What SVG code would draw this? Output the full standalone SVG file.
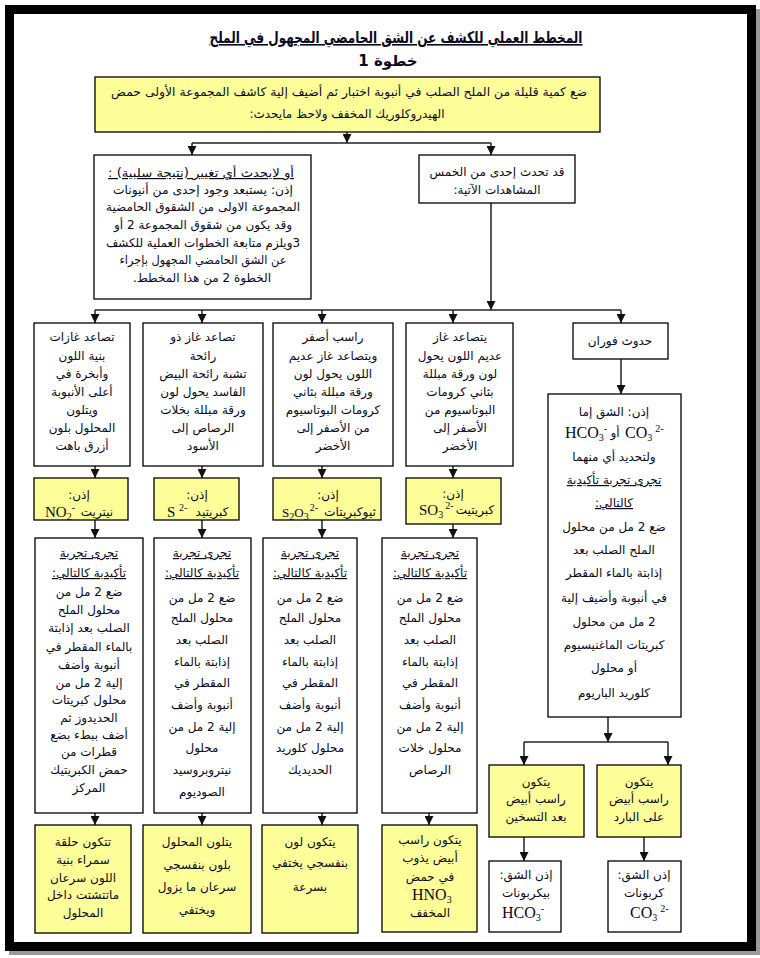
<svg xmlns="http://www.w3.org/2000/svg" width="760" height="958" viewBox="0 0 760 958">
<defs>
<marker id="ah" viewBox="0 0 10 10" refX="10" refY="5" markerWidth="9" markerHeight="9" markerUnits="userSpaceOnUse" orient="auto">
<path d="M0,0 L10,5 L0,10 z" fill="#111"/>
</marker>
<style>
.box{fill:#fff;stroke:#000;stroke-width:1.3}
.yb{fill:#ffff99;stroke:#000;stroke-width:1.3}
.t{font-family:'DejaVu Sans',sans-serif;font-size:12px;fill:#0a0a20;text-anchor:middle;direction:rtl}
.u{text-decoration:underline}
.l{font-family:'Liberation Serif',serif;font-size:15px;fill:#0a0a20}
.s{font-size:10px}
.c{stroke:#222;stroke-width:1.5;fill:none}
.ca{stroke:#222;stroke-width:1.5;fill:none;marker-end:url(#ah)}
</style>
</defs>
<rect x="0" y="0" width="760" height="958" fill="#fff"/>
<rect x="13.5" y="13.5" width="742" height="937" fill="none" stroke="#9a9a9a" stroke-width="9"/>
<rect x="9.5" y="9.5" width="742" height="937" fill="#fff" stroke="#000" stroke-width="9"/>

<g id="title">
<text x="396" y="43" class="t u" style="font-size:16px;font-weight:bold" textLength="373" lengthAdjust="spacingAndGlyphs">المخطط العملي للكشف عن الشق الحامضي المجهول في الملح</text>
<text x="388" y="66" class="t" style="font-size:15px;font-weight:bold">خطوة 1</text>
</g>

<g id="connectors">
<path class="ca" d="M347,132 V143"/>
<path class="c" d="M192,143 H491"/>
<path class="ca" d="M192,143 V155"/>
<path class="ca" d="M491,143 V155"/>
<path class="ca" d="M491,203 V310"/>
<path class="c" d="M95,310 H621"/>
<path class="ca" d="M95,310 V323"/>
<path class="ca" d="M202,310 V323"/>
<path class="ca" d="M322,310 V323"/>
<path class="ca" d="M453,310 V323"/>
<path class="ca" d="M621,310 V323"/>
<path class="ca" d="M95,466 V478"/>
<path class="ca" d="M202,466 V478"/>
<path class="ca" d="M322,466 V478"/>
<path class="ca" d="M453,466 V478"/>
<path class="ca" d="M95,520 V538"/>
<path class="ca" d="M202,520 V538"/>
<path class="ca" d="M322,520 V538"/>
<path class="ca" d="M453,524 V538"/>
<path class="ca" d="M95,813 V825"/>
<path class="ca" d="M202,813 V825"/>
<path class="ca" d="M322,813 V825"/>
<path class="ca" d="M429,813 V825"/>
<path class="ca" d="M621,359 V394"/>
<path class="ca" d="M608,717 V742"/>
<path class="c" d="M524,742 H668"/>
<path class="ca" d="M524,742 V765"/>
<path class="ca" d="M668,742 V765"/>
<path class="ca" d="M524,837 V861"/>
<path class="ca" d="M644,837 V861"/>
</g>

<g id="start">
<rect class="yb" x="95" y="77" width="505" height="55"/>
<text x="349" y="96" class="t" textLength="476" lengthAdjust="spacingAndGlyphs">ضع كمية قليلة من الملح الصلب في أنبوبة اختبار ثم أضيف إلية كاشف المجموعة الأولى حمض</text>
<text x="347" y="118" class="t">الهيدروكلوريك المخفف ولاحظ مايحدث:</text>
</g>

<g id="negative">
<rect class="box" x="94" y="155" width="217" height="144"/>
<text x="201" y="177" class="t u" textLength="186" lengthAdjust="spacingAndGlyphs">أو لايحدث أي تغيير (نتيجة سلبية) :</text>
<text x="203" y="194" class="t" textLength="180" lengthAdjust="spacingAndGlyphs">إذن: يستبعد وجود إحدى من أنيونات</text>
<text x="203" y="211" class="t" textLength="194" lengthAdjust="spacingAndGlyphs">المجموعة الاولى من الشقوق الحامضية</text>
<text x="203" y="229" class="t" textLength="178" lengthAdjust="spacingAndGlyphs">وقد يكون من شقوق المجموعة 2 أو</text>
<text x="203" y="247" class="t" textLength="194" lengthAdjust="spacingAndGlyphs">3ويلزم متابعة الخطوات العملية للكشف</text>
<text x="203" y="264" class="t" textLength="167" lengthAdjust="spacingAndGlyphs">عن الشق الحامضي المجهول بإجراء</text>
<text x="202" y="282" class="t">الخطوة  2 من هذا المخطط.</text>
</g>

<g id="positive">
<rect class="box" x="419" y="155" width="156" height="48"/>
<text x="497" y="176" class="t">قد تحدث إحدى من الخمس</text>
<text x="497" y="194" class="t">المشاهدات الآتية:</text>
</g>

<g id="obs1">
<rect class="box" x="34" y="323" width="96" height="143"/>
<text x="82" y="341" class="t">تصاعد غازات</text>
<text x="82" y="360" class="t">بنية اللون</text>
<text x="82" y="378" class="t">وأبخرة في</text>
<text x="82" y="396" class="t">أعلى الأنبوبة</text>
<text x="82" y="414" class="t">ويتلون</text>
<text x="82" y="432" class="t">المحلول بلون</text>
<text x="82" y="450" class="t">أزرق باهت</text>
</g>

<g id="obs2">
<rect class="box" x="143" y="323" width="120" height="143"/>
<text x="203" y="341" class="t">تصاعد غاز ذو</text>
<text x="203" y="360" class="t">رائحة</text>
<text x="203" y="378" class="t">تشبة رائحة البيض</text>
<text x="203" y="396" class="t">الفاسد يحول لون</text>
<text x="203" y="414" class="t">ورقة مبللة بخلات</text>
<text x="203" y="432" class="t">الرصاص إلى</text>
<text x="203" y="450" class="t">الأسود</text>
</g>

<g id="obs3">
<rect class="box" x="273" y="323" width="120" height="143"/>
<text x="333" y="341" class="t">راسب أصفر</text>
<text x="333" y="360" class="t">ويتصاعد غاز عديم</text>
<text x="333" y="378" class="t">اللون يحول لون</text>
<text x="333" y="396" class="t">ورقة مبللة بثاني</text>
<text x="333" y="414" class="t">كرومات البوتاسيوم</text>
<text x="333" y="432" class="t">من الأصفر إلى</text>
<text x="333" y="450" class="t">الأخضر</text>
</g>

<g id="obs4">
<rect class="box" x="406" y="323" width="107" height="143"/>
<text x="460" y="341" class="t">يتصاعد غاز</text>
<text x="460" y="360" class="t">عديم اللون يحول</text>
<text x="460" y="378" class="t">لون ورقة مبللة</text>
<text x="460" y="396" class="t">بثاني كرومات</text>
<text x="460" y="414" class="t">البوتاسيوم من</text>
<text x="460" y="432" class="t">الأصفر إلى</text>
<text x="460" y="450" class="t">الأخضر</text>
</g>

<g id="obs5">
<rect class="box" x="573" y="323" width="95" height="36"/>
<text x="620" y="345" class="t">حدوث فوران</text>
</g>

<g id="res1">
<rect class="yb" x="34" y="478" width="94" height="42"/>
<text x="79" y="499" class="t">إذن:</text>
<text x="45" y="517" class="l">NO<tspan class="s" dy="3">2</tspan><tspan class="s" dy="-9">-</tspan></text>
<text x="97" y="516" class="t">نيتريت</text>
</g>

<g id="res2">
<rect class="yb" x="154" y="478" width="85" height="42"/>
<text x="197" y="499" class="t">إذن:</text>
<text x="167" y="517" class="l">S <tspan class="s" dy="-6">2-</tspan></text>
<text x="212" y="516" class="t">كبريتيد</text>
</g>

<g id="res3">
<rect class="yb" x="273" y="478" width="108" height="42"/>
<text x="328" y="499" class="t">إذن:</text>
<text x="282" y="517" class="l" style="font-size:13px">S<tspan class="s" dy="3">2</tspan><tspan dy="-3">O</tspan><tspan class="s" dy="3">3</tspan><tspan class="s" dx="1" dy="-9">2-</tspan></text>
<text x="350" y="516" class="t" textLength="52" lengthAdjust="spacingAndGlyphs">ثيوكبريتات</text>
</g>

<g id="res4">
<rect class="yb" x="406" y="478" width="95" height="46"/>
<text x="453" y="498" class="t">إذن:</text>
<text x="419" y="515" class="l">SO<tspan class="s" dy="3">3</tspan><tspan class="s" dx="2" dy="-9">2-</tspan></text>
<text x="475" y="514" class="t">كبريتيت</text>
</g>

<g id="conf1">
<rect class="box" x="35" y="538" width="108" height="275"/>
<text x="89" y="557" class="t u">تجرى تجربة</text>
<text x="89" y="577" class="t u">تأكيدية كالتالي:</text>
<text x="89" y="596" class="t">ضع 2 مل من</text>
<text x="89" y="614" class="t">محلول الملح</text>
<text x="89" y="632" class="t">الصلب بعد إذابتة</text>
<text x="89" y="651" class="t">بالماء المقطر في</text>
<text x="89" y="669" class="t">أنبوبة وأضف</text>
<text x="89" y="687" class="t">إلية 2 مل من</text>
<text x="89" y="704" class="t">محلول كبريتات</text>
<text x="89" y="722" class="t">الحديدوز ثم</text>
<text x="89" y="739" class="t">أضف ببطء بضع</text>
<text x="89" y="756" class="t">قطرات من</text>
<text x="89" y="774" class="t">حمض الكبريتيك</text>
<text x="89" y="792" class="t">المركز</text>
</g>

<g id="conf2">
<rect class="box" x="154" y="538" width="97" height="275"/>
<text x="202" y="557" class="t u">تجرى تجربة</text>
<text x="202" y="577" class="t u">تأكيدية كالتالي:</text>
<text x="202" y="602" class="t">ضع 2 مل من</text>
<text x="202" y="622" class="t">محلول الملح</text>
<text x="202" y="644" class="t">الصلب بعد</text>
<text x="202" y="666" class="t">إذابتة بالماء</text>
<text x="202" y="687" class="t">المقطر في</text>
<text x="202" y="709" class="t">أنبوبة وأضف</text>
<text x="202" y="731" class="t">إلية 2 مل من</text>
<text x="202" y="752" class="t">محلول</text>
<text x="202" y="774" class="t">نيتروبروسيد</text>
<text x="202" y="796" class="t">الصوديوم</text>
</g>

<g id="conf3">
<rect class="box" x="263" y="538" width="94" height="275"/>
<text x="310" y="557" class="t u">تجرى تجربة</text>
<text x="310" y="577" class="t u">تأكيدية كالتالي:</text>
<text x="310" y="602" class="t">ضع 2 مل من</text>
<text x="310" y="622" class="t">محلول الملح</text>
<text x="310" y="644" class="t">الصلب بعد</text>
<text x="310" y="666" class="t">إذابتة بالماء</text>
<text x="310" y="687" class="t">المقطر في</text>
<text x="310" y="709" class="t">أنبوبة وأضف</text>
<text x="310" y="731" class="t">إلية 2 مل من</text>
<text x="310" y="752" class="t">محلول  كلوريد</text>
<text x="310" y="774" class="t">الحديديك</text>
</g>

<g id="conf4">
<rect class="box" x="382" y="538" width="95" height="275"/>
<text x="430" y="557" class="t u">تجرى تجربة</text>
<text x="430" y="577" class="t u">تأكيدية كالتالي:</text>
<text x="430" y="602" class="t">ضع 2 مل من</text>
<text x="430" y="622" class="t">محلول الملح</text>
<text x="430" y="644" class="t">الصلب بعد</text>
<text x="430" y="666" class="t">إذابتة بالماء</text>
<text x="430" y="687" class="t">المقطر في</text>
<text x="430" y="709" class="t">أنبوبة وأضف</text>
<text x="430" y="731" class="t">إلية 2 مل من</text>
<text x="430" y="752" class="t">محلول خلات</text>
<text x="430" y="774" class="t">الرصاص</text>
</g>

<g id="carb">
<rect class="box" x="548" y="394" width="133" height="323"/>
<text x="614" y="416" class="t">إذن: الشق إما</text>
<text x="565" y="438" class="l" style="font-size:16px">HCO<tspan class="s" dy="3">3</tspan><tspan class="s" dy="-9">-</tspan></text>
<text x="615" y="437" class="t">أو</text>
<text x="625" y="438" class="l" style="font-size:16px">CO<tspan class="s" dy="3">3</tspan><tspan class="s" dx="3" dy="-9">2-</tspan></text>
<text x="614" y="461" class="t">ولتحديد أي منهما</text>
<text x="614" y="484" class="t u">تجرى تجربة تأكيدية</text>
<text x="614" y="507" class="t u">كالتالي:</text>
<text x="614" y="531" class="t">ضع 2 مل من محلول</text>
<text x="614" y="554" class="t">الملح الصلب بعد</text>
<text x="614" y="577" class="t">إذابتة بالماء المقطر</text>
<text x="614" y="602" class="t">في أنبوبة وأضيف إلية</text>
<text x="614" y="626" class="t">2 مل من محلول</text>
<text x="614" y="649" class="t">كبريتات الماغنيسيوم</text>
<text x="614" y="672" class="t">أو محلول</text>
<text x="614" y="697" class="t">كلوريد الباريوم</text>
</g>

<g id="fin1">
<rect class="yb" x="35" y="825" width="96" height="108"/>
<text x="83" y="846" class="t">تتكون حلقة</text>
<text x="83" y="864" class="t">سمراء بنية</text>
<text x="83" y="882" class="t">اللون سرعان</text>
<text x="83" y="899" class="t">ماتتشتت داخل</text>
<text x="83" y="917" class="t">المحلول</text>
</g>

<g id="fin2">
<rect class="yb" x="143" y="825" width="108" height="108"/>
<text x="197" y="846" class="t">يتلون المحلول</text>
<text x="197" y="869" class="t">بلون بنفسجي</text>
<text x="197" y="891" class="t">سرعان ما يزول</text>
<text x="197" y="914" class="t">ويختفي</text>
</g>

<g id="fin3">
<rect class="yb" x="262" y="825" width="96" height="108"/>
<text x="310" y="846" class="t">يتكون لون</text>
<text x="310" y="867" class="t">بنفسجي يختفي</text>
<text x="310" y="891" class="t">بسرعة</text>
</g>

<g id="fin4">
<rect class="yb" x="382" y="825" width="95" height="107"/>
<text x="430" y="844" class="t">يتكون راسب</text>
<text x="430" y="862" class="t">أبيض يذوب</text>
<text x="430" y="881" class="t">في حمض</text>
<text x="412" y="900" class="l" style="font-size:16px">HNO<tspan class="s" dy="3">3</tspan></text>
<text x="430" y="917" class="t">المخفف</text>
</g>

<g id="hot">
<rect class="yb" x="489" y="765" width="95" height="72"/>
<text x="536" y="786" class="t">يتكون</text>
<text x="536" y="803" class="t">راسب أبيض</text>
<text x="536" y="821" class="t">بعد التسخين</text>
</g>

<g id="cold">
<rect class="yb" x="597" y="765" width="84" height="72"/>
<text x="639" y="786" class="t">يتكون</text>
<text x="639" y="803" class="t">راسب أبيض</text>
<text x="639" y="821" class="t">على البارد</text>
</g>

<g id="bicarb">
<rect class="box" x="489" y="861" width="72" height="71"/>
<text x="526" y="879" class="t">إذن الشق:</text>
<text x="526" y="897" class="t">بيكربونات</text>
<text x="502" y="918" class="l" style="font-size:16px">HCO<tspan class="s" dy="3">3</tspan><tspan class="s" dy="-9">-</tspan></text>
</g>

<g id="carbonate">
<rect class="box" x="608" y="861" width="73" height="71"/>
<text x="644" y="879" class="t">إذن الشق:</text>
<text x="644" y="897" class="t">كربونات</text>
<text x="630" y="918" class="l" style="font-size:16px">CO<tspan class="s" dy="3">3</tspan><tspan class="s" dx="3" dy="-9">2-</tspan></text>
</g>
</svg>
